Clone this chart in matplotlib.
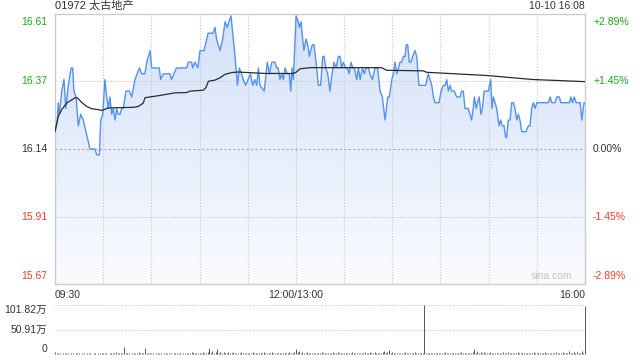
import numpy as np
import matplotlib.pyplot as plt
from matplotlib.colors import LinearSegmentedColormap

plt.rcParams['font.family'] = ['Liberation Sans', 'Noto Sans CJK SC', 'DejaVu Sans']

# ---- data (minutes after open, lunch break removed: 0 = 09:30, 150 = 12:00/13:00, 330 = 16:00)
prev_close = 16.14

price_min = [0, 1.4, 2, 2.7, 4.2, 5.6, 6.7, 8.3, 10, 11, 11.8, 13.1, 14.5, 16, 17.6, 19.3, 21.8, 24.9,
             26, 27.6, 28.5, 29.7, 31.1, 32.2, 33.2, 34.2, 35.3, 36.3, 37.4, 38.4, 39.4, 40.5, 41.5,
             42.5, 44.2, 46.3, 47.8, 49.8, 52.5, 54, 56, 57.1, 59.2, 60.2, 64.9, 65.8, 67.4, 71.6,
             72.5, 75.6, 82, 83, 85.1, 85.7, 87.2, 89, 90.3, 92.8, 95.3, 98.4, 99.6, 100.6, 102.7,
             104.4, 105.9, 107.3, 108.3, 109.6, 112.1, 113.6, 114.8, 116.2, 117.2, 118.7, 120.2,
             121.7, 123.1, 124.4, 125.6, 126.6, 127.6, 130.3, 132.2, 133.5, 135, 137, 138, 139,
             140.1, 141.1, 142.2, 143.2, 144.6, 145.9, 146.8, 147.6, 148.4, 150.1, 151.5, 152.1,
             153.2, 154.2, 155, 156.3, 157.4, 158.4, 159.2, 160.2, 161.3, 162.9, 164, 165.4, 166.7,
             167.5, 168.6, 169.8, 171.2, 172.5, 173.7, 175, 176.4, 177.5, 178.5, 179.5, 181, 182,
             183.2, 184.3, 185.4, 186.4, 187.9, 188.9, 190, 191.4, 192.6, 193.6, 195.1, 196.1,
             197.6, 199.3, 200.9, 202.4, 203.8, 205.5, 207.2, 208.2, 209.7, 210.7, 211.7, 212.8,
             213.8, 214.8, 215.9, 216.9, 218, 218.7, 219.6, 220.6, 221.7, 222.7, 224.2, 225.2,
             226.6, 230.8, 232.4, 233.5, 234.6, 235.6, 236.6, 239.1, 240.4, 241.8, 242.9, 243.9,
             244.9, 246, 247, 248.6, 250.1, 252.2, 253.2, 254.2, 255.3, 256.3, 257.3, 258.4, 259.4,
             260.4, 261.1, 262.2, 263, 264.1, 265.2, 266.1, 267.2, 269.9, 270.5, 271.3, 272.1, 273,
             274, 275, 276, 276.6, 277.5, 278.5, 279.6, 280.6, 281.2, 282.2, 283.3, 284.4, 285.4,
             286.4, 287.5, 288.5, 289.5, 290.6, 293.3, 294.7, 295.8, 296.8, 297.8, 298.9, 300,
             307.2, 308.3, 309.3, 311.4, 312.4, 314, 314.9, 320.3, 321.2, 322.2, 323.3, 324.5, 327,
             328, 329.4, 330]
price = [16.20, 16.24, 16.30, 16.26, 16.34, 16.38, 16.28, 16.36, 16.42, 16.42, 16.34, 16.32, 16.22,
         16.26, 16.24, 16.20, 16.14, 16.14, 16.12, 16.12, 16.24, 16.26, 16.38, 16.32, 16.28, 16.32,
         16.26, 16.28, 16.24, 16.28, 16.26, 16.26, 16.28, 16.28, 16.34, 16.34, 16.32, 16.38, 16.42,
         16.40, 16.40, 16.44, 16.48, 16.42, 16.42, 16.38, 16.40, 16.40, 16.38, 16.42, 16.42, 16.44,
         16.44, 16.42, 16.44, 16.42, 16.48, 16.48, 16.54, 16.54, 16.56, 16.52, 16.48, 16.52, 16.58,
         16.56, 16.58, 16.60, 16.46, 16.36, 16.42, 16.40, 16.38, 16.36, 16.38, 16.40, 16.36, 16.38,
         16.36, 16.42, 16.36, 16.34, 16.44, 16.40, 16.44, 16.44, 16.42, 16.42, 16.38, 16.40, 16.38,
         16.42, 16.40, 16.40, 16.34, 16.42, 16.38, 16.60, 16.58, 16.56, 16.58, 16.52, 16.48, 16.52,
         16.50, 16.46, 16.48, 16.50, 16.50, 16.42, 16.36, 16.36, 16.46, 16.46, 16.42, 16.40, 16.34,
         16.40, 16.44, 16.42, 16.46, 16.46, 16.42, 16.44, 16.42, 16.42, 16.40, 16.44, 16.42, 16.42,
         16.38, 16.42, 16.38, 16.42, 16.40, 16.42, 16.42, 16.40, 16.38, 16.42, 16.42, 16.34, 16.32,
         16.24, 16.32, 16.32, 16.38, 16.40, 16.44, 16.40, 16.42, 16.44, 16.44, 16.46, 16.46, 16.50,
         16.50, 16.44, 16.44, 16.46, 16.48, 16.46, 16.36, 16.36, 16.40, 16.38, 16.36, 16.32, 16.30,
         16.30, 16.34, 16.36, 16.36, 16.38, 16.34, 16.36, 16.34, 16.34, 16.32, 16.32, 16.34, 16.34,
         16.28, 16.28, 16.28, 16.26, 16.24, 16.28, 16.32, 16.28, 16.30, 16.32, 16.26, 16.28, 16.34,
         16.34, 16.36, 16.38, 16.28, 16.32, 16.30, 16.28, 16.24, 16.22, 16.24, 16.22, 16.22, 16.18,
         16.18, 16.24, 16.24, 16.30, 16.30, 16.28, 16.24, 16.26, 16.24, 16.20, 16.20, 16.22, 16.22,
         16.28, 16.30, 16.28, 16.30, 16.30, 16.32, 16.30, 16.30, 16.32, 16.32, 16.30, 16.30, 16.32,
         16.30, 16.32, 16.30, 16.30, 16.24, 16.30, 16.30]

avg_min = [0, 2.1, 4.2, 7.3, 12.5, 13.9, 16.6, 19.7, 22.9, 27, 29.1, 33.2, 48.8, 51.9, 55, 56, 59.2,
           65.4, 74.7, 82, 84.1, 92.3, 94, 95.5, 99.6, 102.7, 105.9, 110, 114.1, 120.4, 130.8,
           148.4, 150.1, 152.5, 158.8, 203.4, 206.5, 229.3, 231.4, 268.8, 297.8, 329, 330]
avg_price = [16.200, 16.253, 16.276, 16.299, 16.317, 16.317, 16.301, 16.287, 16.279, 16.276, 16.273,
             16.282, 16.284, 16.287, 16.299, 16.317, 16.320, 16.325, 16.334, 16.335, 16.340, 16.343,
             16.352, 16.374, 16.378, 16.386, 16.398, 16.404, 16.406, 16.404, 16.401, 16.401, 16.405,
             16.417, 16.421, 16.421, 16.412, 16.410, 16.405, 16.394, 16.380, 16.373, 16.373]

# volume per minute, in 万 shares
volume = [4, 2, 3, 2, 1, 2, 3, 2, 2, 1, 3, 2, 1, 2, 2, 3, 1, 2, 2, 1, 2, 3, 2, 1, 2, 2, 1, 3, 2, 2,
          2, 3, 2, 1, 2, 3, 2, 2, 4, 2, 3, 2, 2, 15, 2, 3, 2, 1, 2, 3, 2, 2, 4, 2, 3, 2, 12, 2, 3, 2,
          2, 3, 1, 2, 2, 3, 2, 1, 2, 3, 2, 2, 3, 1, 2, 2, 3, 2, 2, 1, 3, 2, 2, 3, 2, 4, 2, 3, 2, 2,
          3, 2, 4, 3, 2, 5, 12, 3, 6, 2, 4, 10, 3, 5, 2, 4, 3, 2, 5, 3, 2, 4, 3, 2, 3, 2, 4, 2, 3, 2,
          3, 2, 2, 4, 2, 3, 2, 2, 3, 2, 5, 2, 3, 2, 2, 4, 3, 2, 2, 3, 2, 2, 3, 2, 2, 3, 4, 2, 3, 5,
          10, 4, 6, 3, 5, 2, 3, 4, 2, 3, 2, 3, 2, 2, 3, 2, 4, 2, 3, 2, 2, 3, 2, 4, 2, 2, 5, 3, 2, 3,
          2, 3, 2, 2, 3, 4, 2, 3, 2, 2, 3, 2, 2, 4, 2, 3, 5, 3, 2, 4, 2, 3, 2, 3, 4, 6, 3, 5, 8, 3,
          4, 3, 2, 3, 2, 2, 3, 2, 4, 2, 3, 2, 2, 3, 4, 2, 3, 2, 2, 3, 101.8, 2, 3, 2, 2, 3, 2, 3, 2, 2,
          3, 2, 2, 4, 2, 3, 2, 2, 3, 2, 3, 2, 2, 4, 2, 3, 2, 3, 2, 3, 5, 10, 3, 6, 2, 4, 3, 5, 2, 3,
          2, 4, 3, 2, 3, 2, 2, 3, 2, 4, 3, 2, 5, 2, 3, 2, 2, 3, 4, 2, 3, 2, 2, 3, 2, 2, 3, 2, 4, 2,
          3, 2, 2, 3, 2, 4, 2, 3, 2, 2, 3, 2, 5, 2, 3, 2, 4, 2, 3, 2, 6, 2, 3, 5, 2, 4, 3, 2, 6, 3,
          100]

pct_ticks = [2.89, 1.45, 0.0, -1.45, -2.89]
price_labels = ['16.61', '16.37', '16.14', '15.91', '15.67']
pct_labels = ['+2.89%', '+1.45%', '0.00%', '-1.45%', '-2.89%']
vol_labels = ['101.82万', '50.91万', '0']
vol_max = 101.82

green = '#1ea51e'
red = '#f23a2e'
grey = '#333333'
lab_colors = [green, green, grey, red, red]

fig = plt.figure(figsize=(6.4, 3.6), dpi=100)
ax = fig.add_axes([55 / 640, 76 / 360, 530 / 640, 270 / 360])
axv = fig.add_axes([55 / 640, 6 / 360, 530 / 640, 49 / 360])

ymin = prev_close * (1 - 0.0289)
ymax = prev_close * (1 + 0.0289)
ax.set_xlim(0, 330)
ax.set_ylim(ymin, ymax)

# gradient area under the price line
cmap = LinearSegmentedColormap.from_list('bl', ['#fafbff', '#d3e1f8'])
grad = np.linspace(0, 1, 256).reshape(-1, 1)
im = ax.imshow(grad, extent=[0, 330, ymin, ymax], origin='lower', aspect='auto',
               cmap=cmap, zorder=1)
poly = ax.fill_between(price_min, price, ymin, color='none', lw=0)
im.set_clip_path(poly.get_paths()[0], transform=ax.transData)

# grid
for m in range(30, 330, 30):
    ax.axvline(m, color='#c8c8c8', lw=0.8, ls=(0, (1, 1.5)), zorder=2)
for p in [1.45, -1.45]:
    ax.axhline(prev_close * (1 + p / 100), color='#c8c8c8', lw=0.8, ls=(0, (1, 1.5)), zorder=2)
ax.axhline(prev_close, color='#aaaaaa', lw=0.8, ls=(0, (2, 2)), zorder=2)

ax.plot(price_min, price, color='#5592ec', lw=1.0, zorder=4)
ax.plot(avg_min, avg_price, color='#2b2b2b', lw=0.9, zorder=5)

for s in ax.spines.values():
    s.set_color('#cccccc')
    s.set_linewidth(1)

ax.set_xticks([])
ax.set_yticks([])
tick_y = [prev_close * (1 + p / 100) for p in pct_ticks]
for i, (y, pl, cl, c) in enumerate(zip(tick_y, price_labels, pct_labels, lab_colors)):
    va = 'top' if i == 0 else ('bottom' if i == len(tick_y) - 1 else 'center')
    off = -0.012 if i == 0 else (0.012 if i == len(tick_y) - 1 else 0)
    ax.text(-5, y + off, pl, color=c, fontsize=7.5, ha='right', va=va, clip_on=False)
    ax.text(335, y + off, cl, color=c, fontsize=7.5, ha='left', va=va, clip_on=False)

# time labels
ax.text(0, ymin - 0.02, '09:30', fontsize=7.5, color=grey, ha='left', va='top')
ax.text(150, ymin - 0.02, '12:00/13:00', fontsize=7.5, color=grey, ha='center', va='top')
ax.text(330, ymin - 0.02, '16:00', fontsize=7.5, color=grey, ha='right', va='top')

ax.text(0, ymax + 0.01, '01972 太古地产', fontsize=8, color=grey, ha='left', va='bottom')
ax.text(330, ymax + 0.01, '10-10 16:08', fontsize=7.5, color=grey, ha='right', va='bottom')
ax.text(322, ymin + 0.012, 'sina.com', fontsize=7.5, color='#c4c4c4', ha='right', va='bottom',
        zorder=6)

# volume panel
axv.set_xlim(0, 330)
axv.set_ylim(0, vol_max)
bars = axv.vlines(np.arange(len(volume)), 0, volume, color='#555555', lw=0.7)
bars.set_clip_on(False)
axv.axhline(vol_max, color='#c8c8c8', lw=0.8, ls=(0, (1, 1.5)))
axv.axhline(vol_max / 2, color='#c8c8c8', lw=0.8, ls=(0, (1, 1.5)))
for s in axv.spines.values():
    s.set_visible(False)
axv.set_xticks([])
axv.set_yticks([])
for y, lab in zip([vol_max, vol_max / 2, 0], vol_labels):
    axv.text(-5, y, lab, fontsize=7.5, color=grey, ha='right',
             va='top' if y == vol_max else ('bottom' if y == 0 else 'center'), clip_on=False)

fig.savefig('out.png', dpi=100)
